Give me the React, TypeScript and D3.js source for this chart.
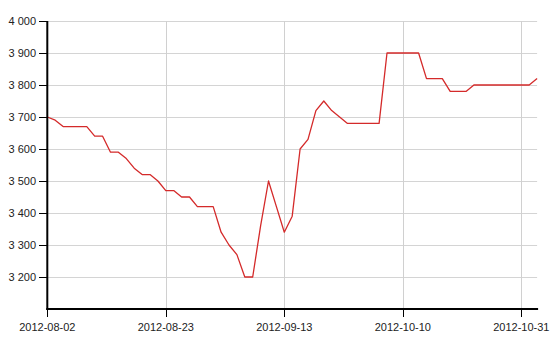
import React from "react";
import * as d3 from "d3";

const dates: string[] = [
  "2012-08-02", "2012-08-03",
  "2012-08-06", "2012-08-07", "2012-08-08", "2012-08-09", "2012-08-10",
  "2012-08-13", "2012-08-14", "2012-08-15", "2012-08-16", "2012-08-17",
  "2012-08-20", "2012-08-21", "2012-08-22", "2012-08-23", "2012-08-24",
  "2012-08-27", "2012-08-28", "2012-08-29", "2012-08-30", "2012-08-31",
  "2012-09-03", "2012-09-04", "2012-09-05", "2012-09-06", "2012-09-07",
  "2012-09-10", "2012-09-11", "2012-09-12", "2012-09-13", "2012-09-14",
  "2012-09-17", "2012-09-18", "2012-09-19", "2012-09-20", "2012-09-21",
  "2012-09-24", "2012-09-25", "2012-09-26", "2012-09-27", "2012-09-28",
  "2012-09-29",
  "2012-10-08", "2012-10-09", "2012-10-10", "2012-10-11", "2012-10-12",
  "2012-10-15", "2012-10-16", "2012-10-17", "2012-10-18", "2012-10-19",
  "2012-10-22", "2012-10-23", "2012-10-24", "2012-10-25", "2012-10-26",
  "2012-10-29", "2012-10-30", "2012-10-31",
  "2012-11-01", "2012-11-02",
];

const prices: number[] = [
  3700, 3690, 3670, 3670, 3670, 3670, 3640, 3640, 3590, 3590,
  3570, 3540, 3520, 3520, 3500, 3470, 3470, 3450, 3450, 3420,
  3420, 3420, 3340, 3300, 3270, 3200, 3200, 3360, 3500, 3420,
  3340, 3390, 3600, 3630, 3720, 3750, 3720, 3700, 3680, 3680,
  3680, 3680, 3680, 3900, 3900, 3900, 3900, 3900, 3820, 3820,
  3820, 3780, 3780, 3780, 3800, 3800, 3800, 3800, 3800, 3800,
  3800, 3800, 3820,
];

const xTickLabels: string[] = ["2012-08-02", "2012-08-23", "2012-09-13", "2012-10-10", "2012-10-31"];
const yTickValues: number[] = [3200, 3300, 3400, 3500, 3600, 3700, 3800, 3900, 4000];
const yDomain: [number, number] = [3100, 4000];

const W = 560;
const H = 345;
const left = 47.3;
const right = 537.1;
const top = 21;
const bottom = 309;

export default function App() {
  const x = d3.scaleLinear().domain([0, dates.length - 1]).range([left, right]);
  const y = d3.scaleLinear().domain(yDomain).range([bottom, top]);
  const line = d3
    .line<number>()
    .x((_, i) => x(i))
    .y((d) => y(d));
  const fmt = (v: number) => d3.format(",")(v).replace(/,/g, " ");
  const tickIdx = xTickLabels.map((l) => dates.indexOf(l));
  const font = "'Liberation Sans', Arial, sans-serif";

  return (
    <svg
      width={W}
      height={H}
      style={{ position: "absolute", left: 0, top: 0, background: "#fff" }}
    >
      {/* horizontal grid */}
      {yTickValues.map((v) => (
        <line
          key={"hg" + v}
          x1={left}
          x2={right}
          y1={Math.round(y(v)) + 0.5}
          y2={Math.round(y(v)) + 0.5}
          stroke="#d4d4d4"
          strokeWidth={1}
        />
      ))}
      {/* vertical grid */}
      {tickIdx.map((i) => (
        <line
          key={"vg" + i}
          x1={Math.round(x(i)) + 0.5}
          x2={Math.round(x(i)) + 0.5}
          y1={top}
          y2={bottom}
          stroke="#d0d0d0"
          strokeWidth={1}
        />
      ))}
      {/* data line */}
      <path
        d={line(prices) || ""}
        fill="none"
        stroke="#d42a2a"
        strokeWidth={1.3}
        strokeLinejoin="round"
      />
      {/* y axis */}
      <line x1={left} x2={left} y1={top} y2={bottom + 1} stroke="#000" strokeWidth={2} />
      {yTickValues.map((v) => (
        <g key={"yt" + v}>
          <line
            x1={39}
            x2={left}
            y1={Math.round(y(v)) + 0.5}
            y2={Math.round(y(v)) + 0.5}
            stroke="#000"
            strokeWidth={1}
          />
          <text
            x={36}
            y={y(v)}
            dy="0.35em"
            textAnchor="end"
            fontFamily={font}
            fontSize={11}
            fill="#222"
          >
            {fmt(v)}
          </text>
        </g>
      ))}
      {/* x axis */}
      <line x1={left - 1} x2={right + 1} y1={bottom} y2={bottom} stroke="#000" strokeWidth={2} />
      {tickIdx.map((i, k) => (
        <g key={"xt" + i}>
          <line
            x1={Math.round(x(i)) + 0.5}
            x2={Math.round(x(i)) + 0.5}
            y1={bottom}
            y2={bottom + 8}
            stroke="#000"
            strokeWidth={1}
          />
          <text
            x={x(i)}
            y={331}
            textAnchor="middle"
            fontFamily={font}
            fontSize={11}
            fill="#222"
          >
            {xTickLabels[k]}
          </text>
        </g>
      ))}
    </svg>
  );
}
